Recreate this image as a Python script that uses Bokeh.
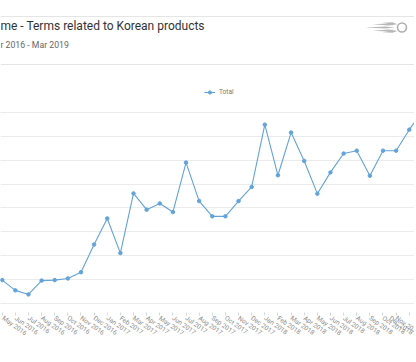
from bokeh.plotting import figure
from bokeh.models import (FixedTicker, Grid, Label, Legend, LegendItem, Range1d)
from bokeh.embed import file_html
from bokeh.resources import INLINE

# ---- data (1 grid step = 10 units) ----
months = ["Apr 2016", "May 2016", "Jun 2016", "Jul 2016", "Aug 2016", "Sep 2016",
          "Oct 2016", "Nov 2016", "Dec 2016", "Jan 2017", "Feb 2017", "Mar 2017",
          "Apr 2017", "May 2017", "Jun 2017", "Jul 2017", "Aug 2017", "Sep 2017",
          "Oct 2017", "Nov 2017", "Dec 2017", "Jan 2018", "Feb 2018", "Mar 2018",
          "Apr 2018", "May 2018", "Jun 2018", "Jul 2018", "Aug 2018", "Sep 2018",
          "Oct 2018", "Nov 2018", "Dec 2018", "Jan 2019"]
total = [10.0, 9.8, 5.5, 3.8, 9.6, 9.8,
         10.5, 13.1, 24.7, 35.6, 21.1, 46.1,
         39.3, 41.9, 38.3, 59.0, 42.9, 36.5,
         36.5, 42.9, 48.8, 74.9, 53.7, 71.6,
         59.7, 46.0, 54.9, 62.8, 64.0, 53.5,
         64.0, 64.0, 72.8, 80.5]
grid_values = [0, 10, 20, 30, 40, 50, 60, 70, 80]
title_text = "me - Terms related to Korean products"
subtitle_text = "r 2016 - Mar 2019"
series_name = "Total"

W, H = 414, 360
FRAME_BOTTOM = 312
FONT = "Roboto"
LINE_COLOR = "#62a3d9"
X0, X1 = 0.8705, 32.40
Y0, Y1 = -3.77, 126.9

idx = list(range(len(months)))

p = figure(width=W, height=H, output_backend="svg", toolbar_location=None,
           y_axis_location=None, min_border_left=0, min_border_right=0,
           min_border_top=0, min_border_bottom=H - FRAME_BOTTOM,
           x_range=Range1d(X0, X1), y_range=Range1d(Y0, Y1))
p.title.visible = False
p.outline_line_color = None
p.xgrid.visible = False
p.background_fill_color = "white"
p.border_fill_color = "white"

p.add_layout(Grid(dimension=1, ticker=FixedTicker(ticks=grid_values),
                  grid_line_color="#ebebeb", grid_line_width=1))

ax = p.xaxis[0]
ax.ticker = FixedTicker(ticks=idx)
ax.major_label_overrides = {i: m for i, m in zip(idx, months)}
ax.axis_line_color = None
ax.major_tick_line_color = "#d0d8e8"
ax.major_tick_in = 0
ax.major_tick_out = 3
ax.minor_tick_line_color = None
ax.major_label_orientation = -0.62
ax.major_label_standoff = 2
ax.major_label_text_font = FONT
ax.major_label_text_font_size = "6.5px"
ax.major_label_text_color = "#8a8a8a"

ln = p.line(idx, total, line_width=1.1, line_color=LINE_COLOR)
pts = p.scatter(idx, total, size=3.5, fill_color=LINE_COLOR, line_color=LINE_COLOR)

legend = Legend(items=[LegendItem(label=series_name, renderers=[ln, pts])],
                location=(204, 216), orientation="horizontal",
                background_fill_alpha=0, border_line_color=None,
                padding=0, margin=0, spacing=0,
                glyph_width=11, glyph_height=8, label_height=8,
                label_standoff=4, label_text_font=FONT,
                label_text_font_size="6.5px", label_text_color="#777777")
p.add_layout(legend, "center")

def fy(page_y):
    # frame-relative screen y (from the frame bottom) for a page y
    return FRAME_BOTTOM - page_y

p.add_layout(Label(x=0, y=fy(25.5), x_units="screen", y_units="screen",
                   text=title_text, text_font=FONT, text_font_size="12px",
                   text_color="#333333", text_baseline="middle"))
p.add_layout(Label(x=0, y=fy(44.5), x_units="screen", y_units="screen",
                   text=subtitle_text, text_font=FONT, text_font_size="8.7px",
                   text_color="#666666", text_baseline="middle"))

# small grey flame logo (decoration), page pixels converted to data space
def dx(px):
    return X0 + px * (X1 - X0) / W
def dy(py):
    return Y0 + (FRAME_BOTTOM - py) * (Y1 - Y0) / FRAME_BOTTOM

logo_parts = [
    ([365, 385, 394, 385], [27.0, 26.0, 27.0, 28.0]),
    ([372, 388, 396, 388], [23.8, 23.0, 24.3, 25.0]),
    ([372, 388, 396, 388], [30.2, 29.0, 29.8, 31.0]),
    ([382, 392, 397, 391], [22.2, 21.8, 23.8, 24.0]),
    ([382, 391, 397, 392], [31.8, 30.0, 30.5, 32.2]),
]
p.patches([[dx(v) for v in xs] for xs, _ in logo_parts],
          [[dy(v) for v in ys] for _, ys in logo_parts],
          fill_color="#b8b8b8", line_color=None)
p.scatter([dx(401.5)], [dy(27)], size=9, marker="circle", fill_alpha=0,
          line_color="#b0b0b0", line_width=1.6)

open("out.html", "w").write(file_html(p, INLINE))
